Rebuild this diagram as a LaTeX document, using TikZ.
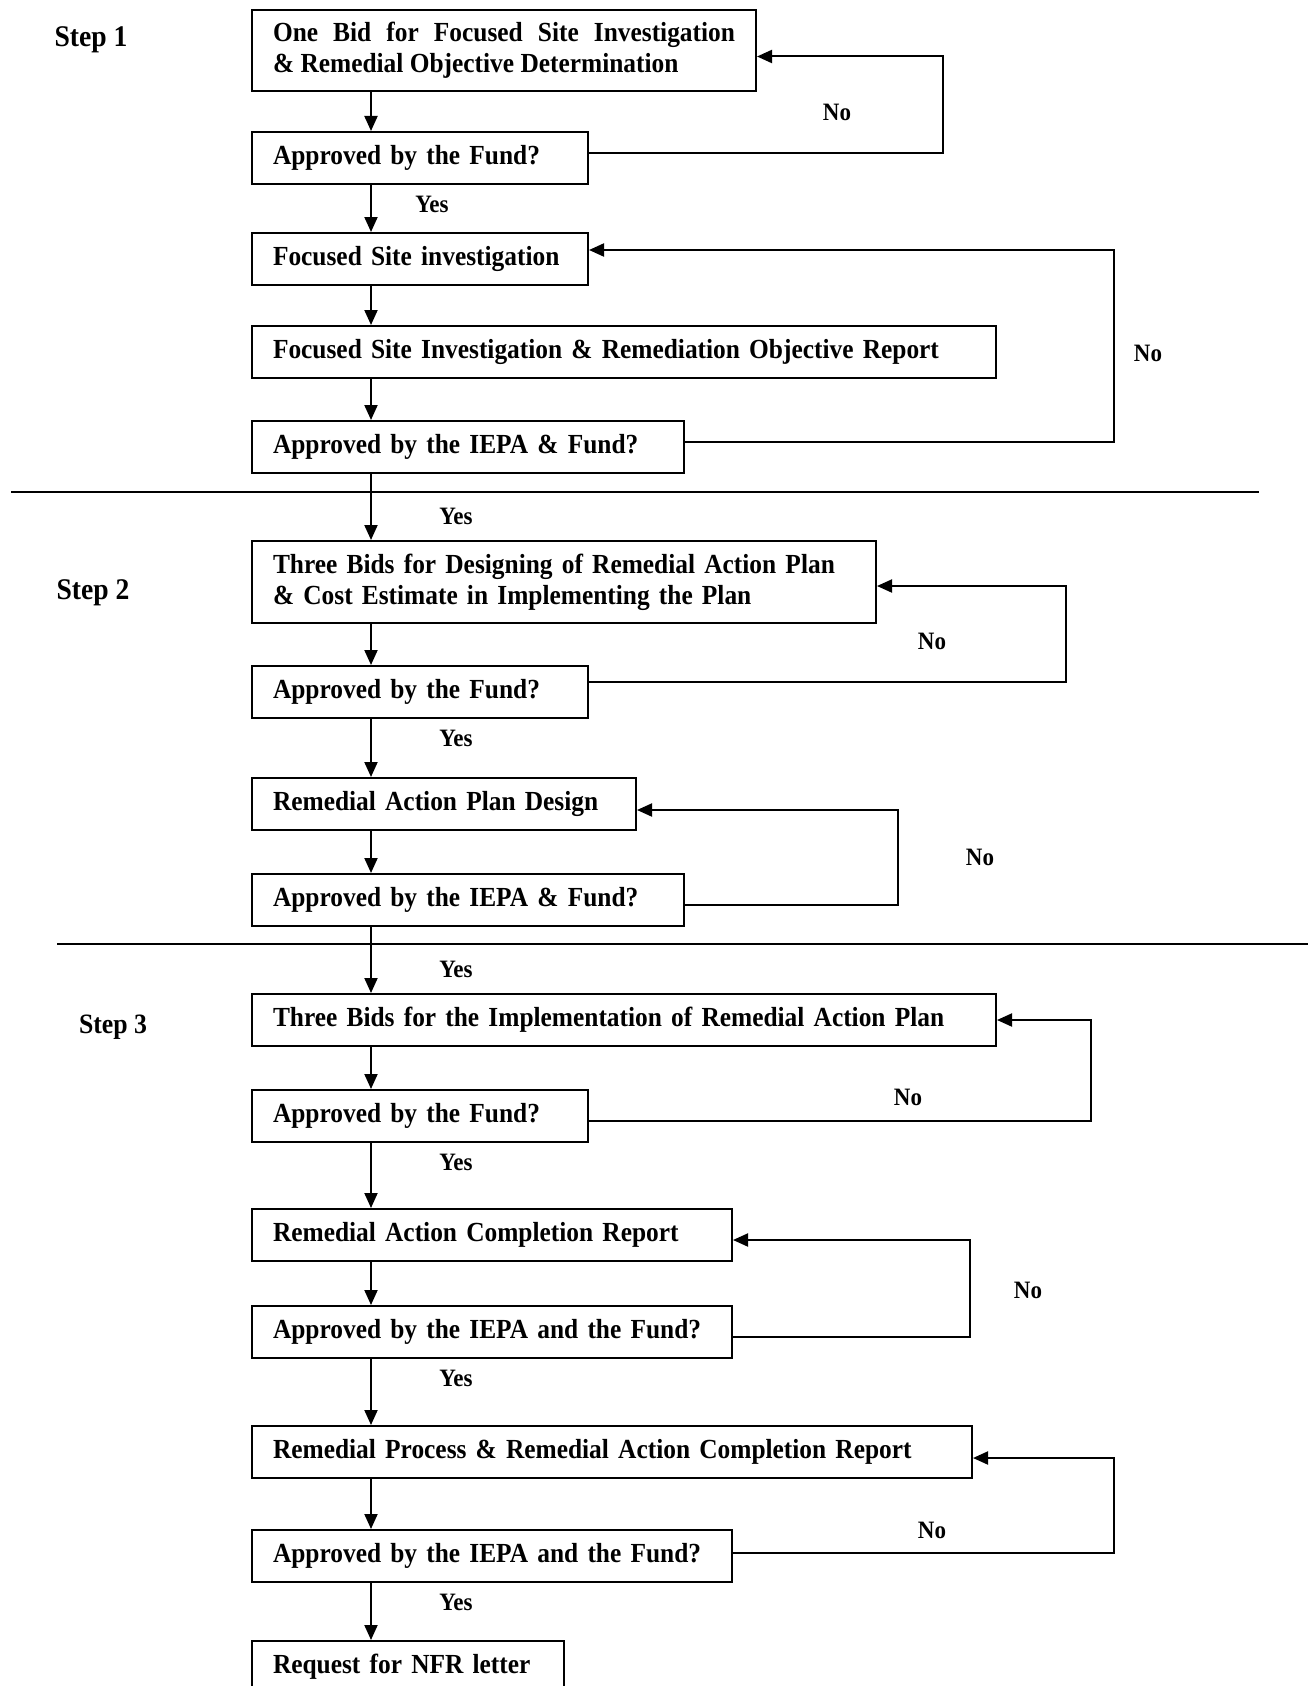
\documentclass[tikz,border=0pt]{standalone}
\usepackage{fontspec}
\setmainfont{Liberation Serif}[FakeStretch=0.92]
\usetikzlibrary{arrows.meta}
\tikzstyle{block}=[draw,line width=1pt,anchor=north west,inner xsep=10.5pt,inner ysep=0pt,minimum height=26pt,align=left,font=\fontsize{13.8}{15.6}\selectfont\bfseries]
\tikzstyle{line}=[draw,line width=1pt,-{Triangle[width=6.5pt,length=7.5pt]}]
\tikzstyle{answer}=[font=\fontsize{12.5}{14}\selectfont\bfseries]
\tikzstyle{stage}=[font=\fontsize{15}{18}\selectfont\bfseries]
\begin{document}
\begin{tikzpicture}[x=0.5pt,y=-0.5pt]
\useasboundingbox (0,0) rectangle (1308,1686);
\coordinate (spine) at (371,0);
% step 1
\node[stage] (s1) at (91,40) {Step 1};
\node[block,text width=231pt,minimum height=40.5pt,align=justify] (bid1) at (251,9) {One Bid for Focused Site Investigation\linebreak \& Remedial Objective Determination};
\node[block,text width=147pt] (ok1) at (251,131) {Approved by the Fund?};
\node[block,text width=147pt] (fsi) at (251,232) {Focused Site investigation};
\node[block,text width=351pt] (fsir) at (251,325) {Focused Site Investigation \& Remediation Objective Report};
\node[block,text width=195pt] (ok2) at (251,420) {Approved by the IEPA \& Fund?};
\draw[line width=1pt] (11,492) -- (1259,492);
% step 2
\node[stage] (s2) at (93,593) {Step 2};
\node[block,text width=291pt,minimum height=41pt] (bid2) at (251,540) {Three Bids for Designing of Remedial Action Plan\\ \& Cost Estimate in Implementing the Plan};
\node[block,text width=147pt] (ok3) at (251,665) {Approved by the Fund?};
\node[block,text width=171pt] (rapd) at (251,777) {Remedial Action Plan Design};
\node[block,text width=195pt] (ok4) at (251,873) {Approved by the IEPA \& Fund?};
\draw[line width=1pt] (57,944) -- (1308,944);
% step 3
\node[stage,font=\fontsize{14}{17}\selectfont\bfseries] (s3) at (113,1027) {Step 3};
\node[block,text width=351pt] (bid3) at (251,993) {Three Bids for the Implementation of Remedial Action Plan};
\node[block,text width=147pt] (ok5) at (251,1089) {Approved by the Fund?};
\node[block,text width=219pt] (racr) at (251,1208) {Remedial Action Completion Report};
\node[block,text width=219pt] (ok6) at (251,1305) {Approved by the IEPA and the Fund?};
\node[block,text width=339pt] (proc) at (251,1425) {Remedial Process \& Remedial Action Completion Report};
\node[block,text width=219pt] (ok7) at (251,1529) {Approved by the IEPA and the Fund?};
\node[block,text width=135pt] (nfr) at (251,1640) {Request for NFR letter};

% main flow
\draw[line] (bid1.south -| spine) -- (ok1.north -| spine);
\draw[line] (ok1.south -| spine) -- (fsi.north -| spine);
\draw[line] (fsi.south -| spine) -- (fsir.north -| spine);
\draw[line] (fsir.south -| spine) -- (ok2.north -| spine);
\draw[line] (ok2.south -| spine) -- (bid2.north -| spine);
\draw[line] (bid2.south -| spine) -- (ok3.north -| spine);
\draw[line] (ok3.south -| spine) -- (rapd.north -| spine);
\draw[line] (rapd.south -| spine) -- (ok4.north -| spine);
\draw[line] (ok4.south -| spine) -- (bid3.north -| spine);
\draw[line] (bid3.south -| spine) -- (ok5.north -| spine);
\draw[line] (ok5.south -| spine) -- (racr.north -| spine);
\draw[line] (racr.south -| spine) -- (ok6.north -| spine);
\draw[line] (ok6.south -| spine) -- (proc.north -| spine);
\draw[line] (proc.south -| spine) -- (ok7.north -| spine);
\draw[line] (ok7.south -| spine) -- (nfr.north -| spine);

% loops back
\coordinate (n1) at (943,0);
\coordinate (n2) at (1114,0);
\coordinate (n3) at (1066,0);
\coordinate (n4) at (898,0);
\coordinate (n5) at (1091,0);
\coordinate (n6) at (970,0);
\coordinate (n7) at (1114,0);
\draw[line] ([yshift=2.5pt]ok1.east) -- ([yshift=2.5pt]ok1.east -| n1) |- ([yshift=-3pt]bid1.east);
\draw[line] ([yshift=2.5pt]ok2.east) -- ([yshift=2.5pt]ok2.east -| n2) |- ([yshift=4.5pt]fsi.east);
\draw[line] ([yshift=5pt]ok3.east) -- ([yshift=5pt]ok3.east -| n3) |- ([yshift=-2pt]bid2.east);
\draw[line] ([yshift=-2.5pt]ok4.east) -- ([yshift=-2.5pt]ok4.east -| n4) |- ([yshift=-3pt]rapd.east);
\draw[line] ([yshift=-2.5pt]ok5.east) -- ([yshift=-2.5pt]ok5.east -| n5) |- (bid3.east);
\draw[line] ([yshift=-2.5pt]ok6.east) -- ([yshift=-2.5pt]ok6.east -| n6) |- ([yshift=-2.5pt]racr.east);
\draw[line] ([yshift=1.5pt]ok7.east) -- ([yshift=1.5pt]ok7.east -| n7) |- ([yshift=-3pt]proc.east);

% answers
\node[answer] (y1) at (432,204) {Yes};
\node[answer] (y2) at (456,516) {Yes};
\node[answer] (y3) at (456,738) {Yes};
\node[answer] (y4) at (456,969) {Yes};
\node[answer] (y5) at (456,1162) {Yes};
\node[answer] (y6) at (456,1378) {Yes};
\node[answer] (y7) at (456,1602) {Yes};
\node[answer] (no1) at (837,112) {No};
\node[answer] (no2) at (1148,353) {No};
\node[answer] (no3) at (932,641) {No};
\node[answer] (no4) at (980,857) {No};
\node[answer] (no5) at (908,1097) {No};
\node[answer] (no6) at (1028,1290) {No};
\node[answer] (no7) at (932,1530) {No};
\end{tikzpicture}
\end{document}
